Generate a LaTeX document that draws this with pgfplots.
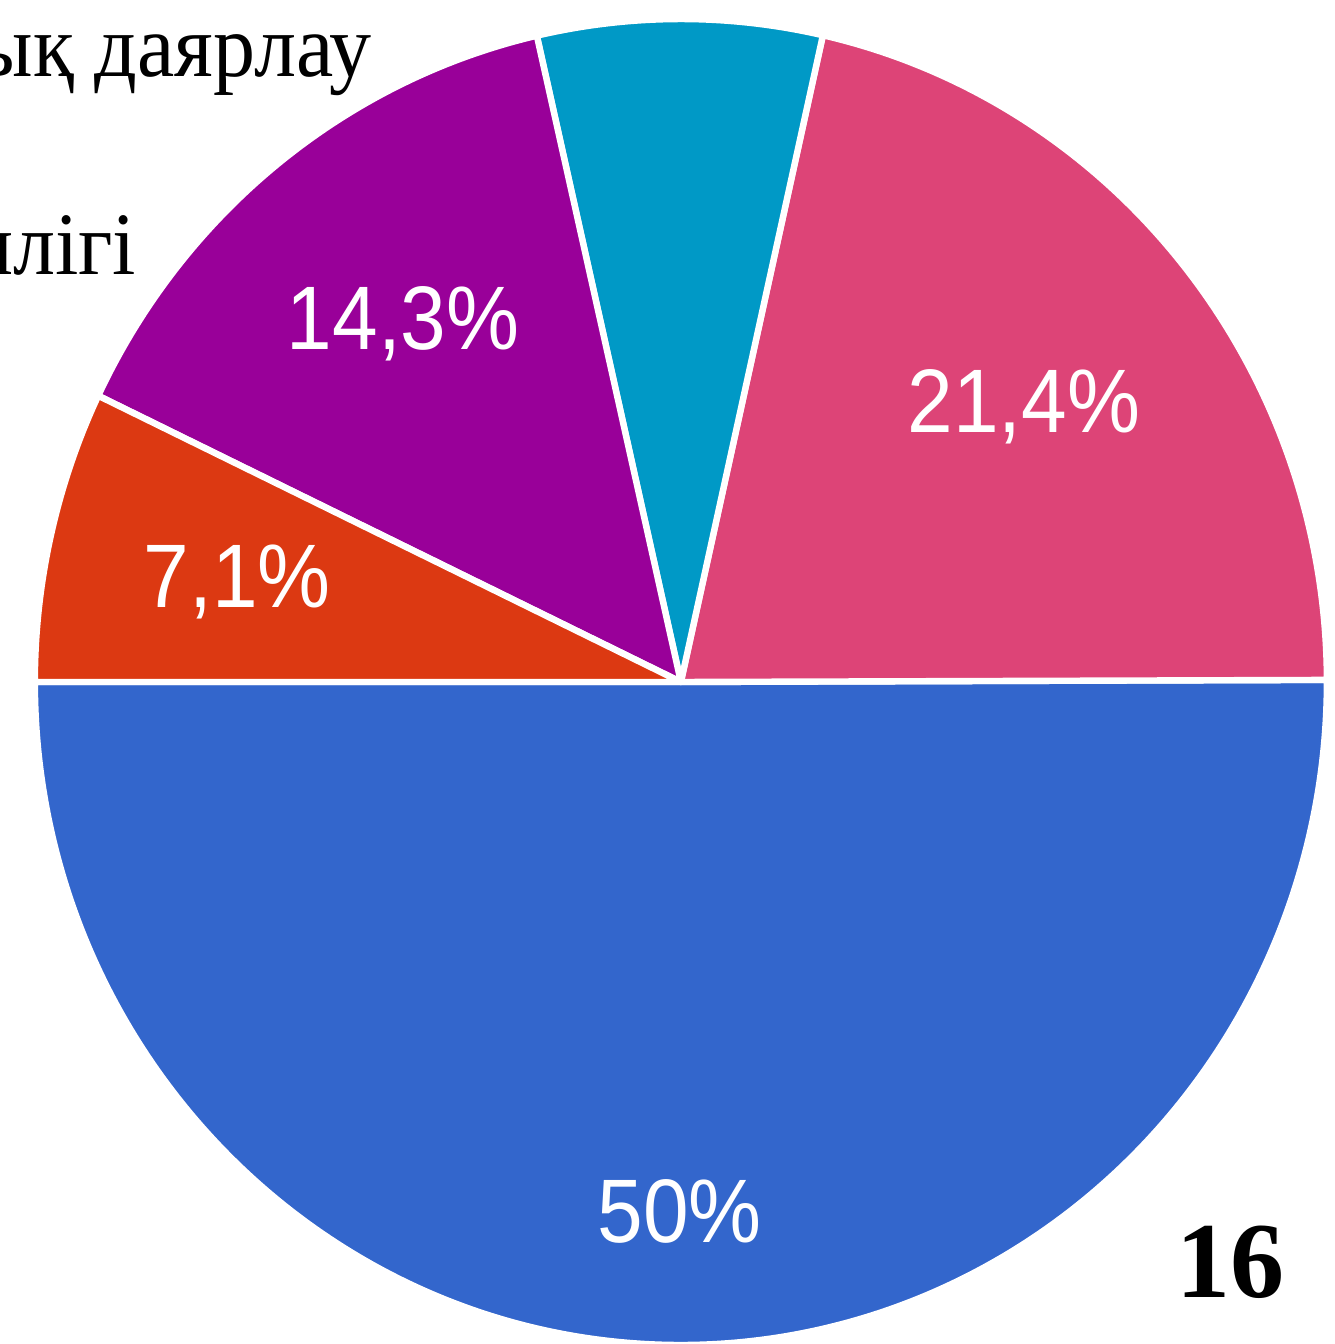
\documentclass[border=0pt]{standalone}
\usepackage{fontspec}
\setmainfont{Liberation Serif}
\newfontfamily\lsans{Liberation Sans}
\usepackage{pgfplots}
\pgfplotsset{compat=1.18}
\definecolor{cBlue}{HTML}{3366CC}
\definecolor{cPink}{HTML}{DD4477}
\definecolor{cCyan}{HTML}{0099C6}
\definecolor{cPurple}{HTML}{990099}
\definecolor{cRed}{HTML}{DC3912}
% slice values (percent)
\def\vA{50}\def\vB{21.4}\def\vC{7.1}\def\vD{14.3}\def\vE{7.1}
\pgfmathsetmacro\tot{\vA+\vB+\vC+\vD+\vE}
\pgfmathsetmacro\aA{180}
\pgfmathsetmacro\aB{\aA+(\vA/\tot)*360}
\pgfmathsetmacro\aC{\aB+(\vB/\tot)*360}
\pgfmathsetmacro\aD{\aC+(\vC/\tot)*360}
\pgfmathsetmacro\aE{\aD+(\vD/\tot)*360}
\pgfmathsetmacro\aF{540}
\newcommand\slice[3]{%
  \fill[#3, draw=white, line width=1.6pt, line join=round]
    (axis cs:0,0) -- (axis cs:{cos(#1)},{sin(#1)})
    arc[start angle=#1, end angle=#2, x radius=1, y radius=1] -- cycle;}
\newcommand\plab[1]{\lsans\fontsize{20.5}{22}\selectfont\scalebox{1}[1.1]{#1}}
\begin{document}
\begin{tikzpicture}
\begin{axis}[
  width=333.5pt, height=336pt, scale only axis,
  xmin=-1.054, xmax=1.011, ymin=-0.9985, ymax=1.0287,
  hide axis, clip=false]
\slice{\aA}{\aB}{cBlue}
\slice{\aB}{\aC}{cPink}
\slice{\aC}{\aD}{cCyan}
\slice{\aD}{\aE}{cPurple}
\slice{\aE}{\aF}{cRed}
\node[white, anchor=base, inner sep=0pt] at (axis cs:-0.430,0.501) {\plab{14,3\%}};
\node[white, anchor=base, inner sep=0pt] at (axis cs:0.531,0.377) {\plab{21,4\%}};
\node[white, anchor=base, inner sep=0pt] at (axis cs:-0.687,0.112) {\plab{7,1\%}};
\node[white, anchor=base, inner sep=0pt] at (axis cs:-0.002,-0.846) {\plab{50\%}};
\node[black, anchor=base east, inner sep=0pt] at (axis cs:-0.478,0.914) {\fontsize{21}{24}\selectfont\scalebox{1}[1.06]{Кәсіби біліктілік пен практикалық даярлау}};
\node[black, anchor=base east, inner sep=0pt] at (axis cs:-0.842,0.614) {\fontsize{21}{24}\selectfont\scalebox{1}[1.06]{Басшылықтың билігі}};
\node[black, anchor=base east, inner sep=0pt] at (axis cs:0.935,-0.929) {\fontsize{27}{30}\selectfont\bfseries 16};
\end{axis}
\pgfresetboundingbox
\useasboundingbox (current axis.south west) rectangle (current axis.north east);
\end{tikzpicture}
\end{document}
